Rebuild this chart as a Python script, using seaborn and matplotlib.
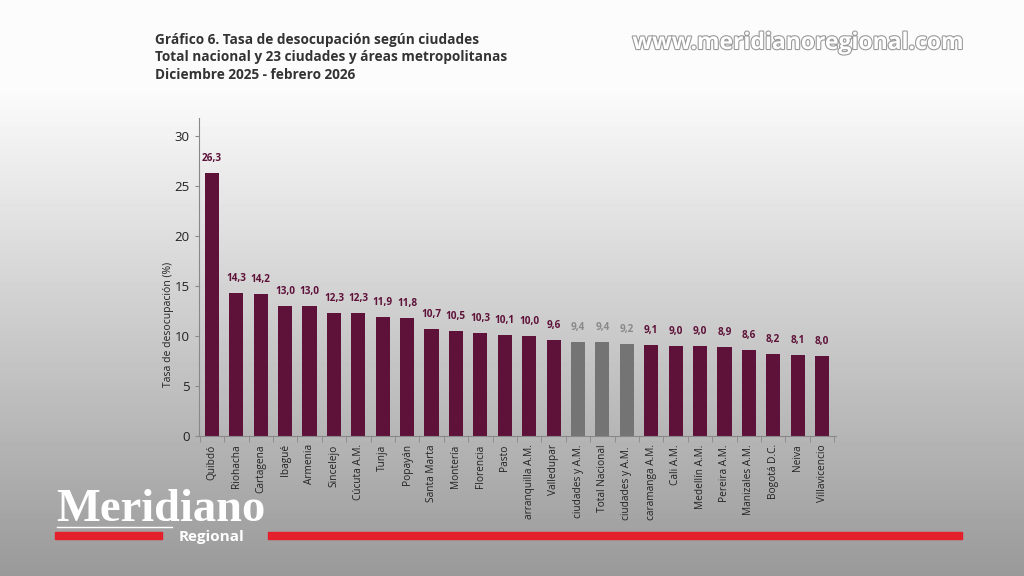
import numpy as np
import pandas as pd
import seaborn as sns
import matplotlib.pyplot as plt
import matplotlib.patheffects as pe
from matplotlib.patches import Rectangle

# data
ciudades = ['Quibdó', 'Riohacha', 'Cartagena', 'Ibagué', 'Armenia', 'Sincelejo',
            'Cúcuta A.M.', 'Tunja', 'Popayán', 'Santa Marta', 'Montería', 'Florencia',
            'Pasto', 'arranquilla A.M.', 'Valledupar', 'ciudades y A.M.', 'Total Nacional',
            'ciudades y A.M. ', 'caramanga A.M.', 'Cali A.M.', 'Medellín A.M.',
            'Pereira A.M.', 'Manizales A.M.', 'Bogotá D.C.', 'Neiva', 'Villavicencio']
tasa = [26.3, 14.3, 14.2, 13.0, 13.0, 12.3, 12.3, 11.9, 11.8, 10.7, 10.5, 10.3,
        10.1, 10.0, 9.6, 9.4, 9.4, 9.2, 9.1, 9.0, 9.0, 8.9, 8.6, 8.2, 8.1, 8.0]
agregados = ['ciudades y A.M.', 'Total Nacional', 'ciudades y A.M. ']

vino = '#5e1239'
gris = '#747474'

df = pd.DataFrame({'ciudad': ciudades, 'tasa': tasa})
colores = {c: (gris if c in agregados else vino) for c in ciudades}

plt.rcParams['font.family'] = ['Open Sans', 'DejaVu Sans']
fig = plt.figure(figsize=(10.24, 5.76), dpi=100)

# background gradient
bg = fig.add_axes([0, 0, 1, 1], zorder=-10)
g = np.concatenate([np.full(90, 0.985), np.linspace(0.985, 0.60, 486)])
bg.imshow(np.tile(g[:, None], (1, 10)), cmap='gray', vmin=0, vmax=1,
          aspect='auto', extent=[0, 1, 0, 1])
bg.set_axis_off()

ax = fig.add_axes([0.1943, 0.2431, 0.6221, 0.552])
ax.patch.set_alpha(0)
sns.barplot(data=df, x='ciudad', y='tasa', hue='ciudad', palette=colores,
            legend=False, width=0.58, saturation=1, ax=ax)

for i, p in enumerate(ax.patches):
    c = gris if ciudades[i] in agregados else vino
    lab = f'{tasa[i]:.1f}'.replace('.', ',')
    ax.annotate(lab, (p.get_x() + p.get_width() / 2, p.get_height()),
                xytext=(0, 6.5), textcoords='offset points', ha='center', va='bottom',
                fontsize=7.2, fontweight='bold', color='#8a8a8a' if c == gris else vino)

ax.set_xlim(-0.53, 25.57)
ax.set_ylim(0, 31.8)
ax.set_yticks([0, 5, 10, 15, 20, 25, 30])
ax.set_xticks(np.arange(len(ciudades)))
ax.set_xticklabels(ciudades, rotation=90, fontsize=7.3, color='#222222')
ax.tick_params(axis='x', length=0, pad=6)
ax.set_xticks(np.arange(len(ciudades) + 1) - 0.5, minor=True)
ax.tick_params(axis='x', which='minor', length=4, color='#888888')
ax.tick_params(axis='y', labelsize=9.5, labelcolor='#222222', length=3, color='#888888')
for s in ['top', 'right']:
    ax.spines[s].set_visible(False)
for s in ['left', 'bottom']:
    ax.spines[s].set_color('#888888')
    ax.spines[s].set_linewidth(0.8)
ax.set_xlabel('')
ax.set_ylabel('Tasa de desocupación (%)', fontsize=7.5, color='#222222')
ax.yaxis.set_label_coords(-0.039, 0.35)

# titles
titulos = ['Gráfico 6. Tasa de desocupación según ciudades',
           'Total nacional y 23 ciudades y áreas metropolitanas',
           'Diciembre 2025 - febrero 2026']
for k, t in enumerate(titulos):
    fig.text(0.151, 1 - (40 + 17.5 * k) / 576, t, fontsize=9.8, fontweight='bold',
             color='#333333', va='center')

# watermark
fig.text(0.779, 1 - 43 / 576, 'www.meridianoregional.com', fontsize=16.5,
         ha='center', va='center', color='white', fontweight='bold',
         path_effects=[pe.withStroke(linewidth=1.6, foreground='#9a9a9a')])

# logo
fig.text(0.055, 1 - 521 / 576, 'Meridiano', fontsize=33.5, fontweight='bold',
         family='Liberation Serif', color='white', va='baseline')
fig.patches.append(Rectangle((55 / 1024, 1 - 539 / 576), 107 / 1024, 7 / 576,
                             transform=fig.transFigure, color='#e3202b'))
fig.patches.append(Rectangle((268 / 1024, 1 - 539 / 576), 694 / 1024, 7 / 576,
                             transform=fig.transFigure, color='#e3202b'))
fig.lines.append(plt.Line2D([57 / 1024, 172 / 1024], [1 - 527 / 576] * 2,
                            transform=fig.transFigure, color='white', lw=1))
fig.text(0.174, 1 - 537 / 576, 'Regional', fontsize=11, fontweight='bold',
         color='white', va='center')

fig.savefig('out.png', dpi=100)
plt.close()
